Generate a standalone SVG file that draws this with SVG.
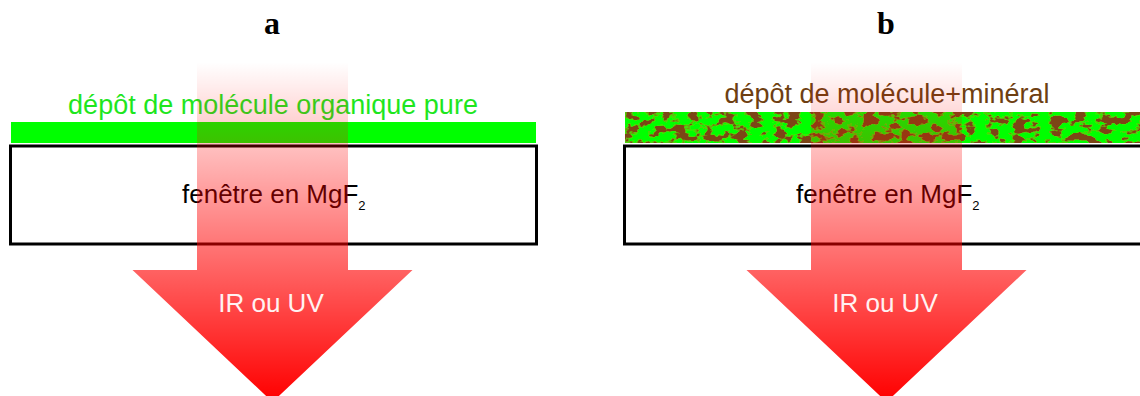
<svg xmlns="http://www.w3.org/2000/svg" width="1140" height="396" viewBox="0 0 1140 396">
  <defs>
    <style>
      .lbl { font-family: "Liberation Sans", Arial, sans-serif; font-size: 26px; fill: #000; }
      .top { font-family: "Liberation Sans", Arial, sans-serif; font-size: 27px; text-anchor: middle; }
      .sub { font-family: "Liberation Sans", Arial, sans-serif; font-size: 13px; fill: #000; }
      .ray { font-family: "Liberation Sans", Arial, sans-serif; font-size: 26px; fill: #fff2f2; text-anchor: middle; }
      .panel { font-family: "Liberation Serif", "Times New Roman", serif; font-size: 32px; font-weight: bold; text-anchor: middle; fill: #000; }
      .win { fill: #fff; stroke: #000; stroke-width: 3; }
    </style>
    <linearGradient id="beam" gradientUnits="userSpaceOnUse" x1="0" y1="62" x2="0" y2="400">
      <stop offset="0" stop-color="#ff0000" stop-opacity="0"/>
      <stop offset="1" stop-color="#ff0000" stop-opacity="1"/>
    </linearGradient>
    <filter id="mix" x="0" y="0" width="100%" height="100%" filterUnits="objectBoundingBox">
      <feTurbulence type="fractalNoise" baseFrequency="0.08 0.12" numOctaves="3" seed="11" result="n"/>
      <feColorMatrix in="n" type="matrix" values="0 0 0 0 0  0 0 0 0 0  0 0 0 0 0  1 0 0 0 0" result="a"/>
      <feComponentTransfer in="a" result="t">
        <feFuncA type="linear" slope="9" intercept="-4.3"/>
      </feComponentTransfer>
      <feFlood flood-color="#7b4512" result="brown"/>
      <feComposite in="brown" in2="t" operator="in" result="spots"/>
      <feFlood flood-color="#00ff00" result="green"/>
      <feMerge>
        <feMergeNode in="green"/>
        <feMergeNode in="spots"/>
      </feMerge>
    </filter>
  </defs>

  <rect width="1140" height="396" fill="#fff"/>

  <g id="panel-a">
    <text class="panel" x="272" y="34">a</text>
    <g id="layer-a">
      <rect x="11" y="122" width="525" height="21" fill="#00ff00"/>
      <text class="top" x="273" y="114" fill="#1ee61e">dépôt de molécule organique pure</text>
    </g>
    <g id="window-a">
      <rect class="win" x="10.5" y="146" width="526" height="98"/>
      <text class="lbl" x="182" y="203">fenêtre en MgF<tspan class="sub" dy="7">2</tspan></text>
    </g>
    <g id="beam-a">
      <path d="M197,62 L348,62 L348,270 L412.5,270 L272.5,402 L132.5,270 L197,270 Z" fill="url(#beam)"/>
      <text class="ray" x="271" y="312">IR ou UV</text>
    </g>
  </g>

  <g id="panel-b">
    <text class="panel" x="886" y="34">b</text>
    <g id="layer-b">
      <rect x="625" y="112" width="515" height="31" fill="#00ff00" filter="url(#mix)"/>
      <text class="top" x="887" y="103" fill="#6e3f12">dépôt de molécule+minéral</text>
    </g>
    <g id="window-b">
      <rect class="win" x="624.5" y="146" width="530" height="98"/>
      <text class="lbl" x="796" y="203">fenêtre en MgF<tspan class="sub" dy="7">2</tspan></text>
    </g>
    <g id="beam-b">
      <path d="M811,62 L962,62 L962,270 L1026.5,270 L886.5,402 L746.5,270 L811,270 Z" fill="url(#beam)"/>
      <text class="ray" x="885" y="312">IR ou UV</text>
    </g>
  </g>

  <g id="connectors"/>
</svg>
